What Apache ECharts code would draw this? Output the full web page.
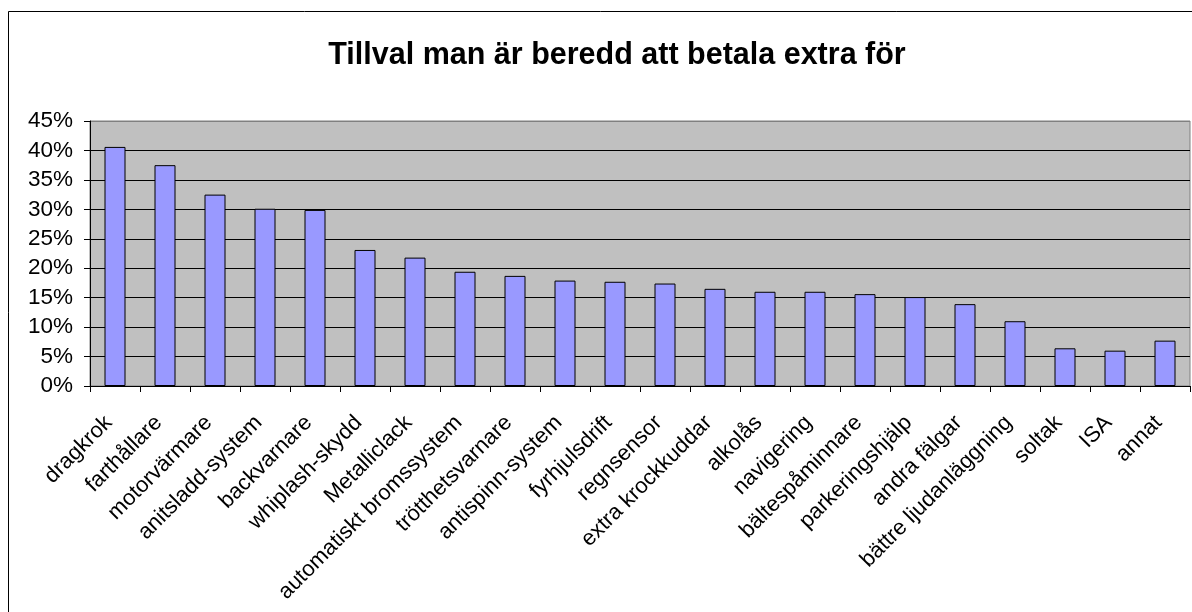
<!DOCTYPE html>
<html>
<head>
<meta charset="utf-8">
<script src="https://cdn.jsdelivr.net/npm/echarts@6/dist/echarts.min.js"></script>
<style>
  html, body { margin: 0; padding: 0; background: #fff; }
  #tillval { width: 1192px; height: 612px; }
</style>
</head>
<body>
<div id="tillval"></div>
<script>
var categories = ['dragkrok', 'farthållare', 'motorvärmare', 'anitsladd-system', 'backvarnare',
  'whiplash-skydd', 'Metalliclack', 'automatiskt bromssystem', 'trötthetsvarnare', 'antispinn-system',
  'fyrhjulsdrift', 'regnsensor', 'extra krockkuddar', 'alkolås', 'navigering', 'bältespåminnare',
  'parkeringshjälp', 'andra fälgar', 'bättre ljudanläggning', 'soltak', 'ISA', 'annat'];
var andel = [40.6, 37.5, 32.5, 30.1, 29.9, 23.1, 21.8, 19.4, 18.7, 17.9, 17.7, 17.4,
  16.5, 16.0, 16.0, 15.6, 15.1, 13.9, 11.0, 6.4, 6.0, 7.7];
var yTicks = [0, 5, 10, 15, 20, 25, 30, 35, 40, 45];

var chartDom = document.getElementById('tillval');
var tillval_chart = echarts.init(chartDom);
var tillval_option;

// gridlines are black, the top one sits on the grey plot border
var gridColors = yTicks.map(function (v, i) {
  return i === yTicks.length - 1 ? '#808080' : '#000000';
});

tillval_option = {
  animation: false,
  textStyle: { fontFamily: 'Arial, "Liberation Sans", sans-serif' },
  graphic: [
    {
      type: 'rect',
      z: -10,
      shape: { x: 8.5, y: 11.5, width: 1300, height: 700 },
      style: { fill: '#ffffff', stroke: '#000000', lineWidth: 1 }
    }
  ],
  title: {
    text: 'Tillval man är beredd att betala extra för',
    left: 612,
    top: 35,
    textAlign: 'center',
    textStyle: { fontSize: 30.5, fontWeight: 'bold', color: '#000' }
  },
  grid: {
    left: 90,
    right: 2,
    top: 121,
    bottom: 226,
    show: true,
    backgroundColor: '#C0C0C0',
    borderColor: '#808080',
    borderWidth: 1
  },
  xAxis: {
    type: 'category',
    data: categories,
    axisLine: { lineStyle: { color: '#000' } },
    axisTick: { show: true, length: 6, lineStyle: { color: '#000' } },
    axisLabel: {
      interval: 0,
      rotate: 45,
      margin: 27,
      padding: [0, 9, 0, 0],
      fontSize: 22,
      color: '#000'
    }
  },
  yAxis: {
    type: 'value',
    min: 0,
    max: 45,
    interval: 5,
    axisLine: { show: true, lineStyle: { color: '#000' } },
    axisTick: { show: true, length: 6, lineStyle: { color: '#000' } },
    axisLabel: {
      formatter: '{value}%',
      fontSize: 22.5,
      color: '#000',
      margin: 17
    },
    splitLine: { show: true, lineStyle: { color: gridColors, width: 1 } }
  },
  series: [
    {
      name: 'Tillval',
      type: 'bar',
      data: andel,
      barWidth: 21,
      itemStyle: { color: '#9999FF', borderColor: '#000', borderWidth: 1 }
    }
  ]
};

tillval_option && tillval_chart.setOption(tillval_option);
</script>
</body>
</html>
